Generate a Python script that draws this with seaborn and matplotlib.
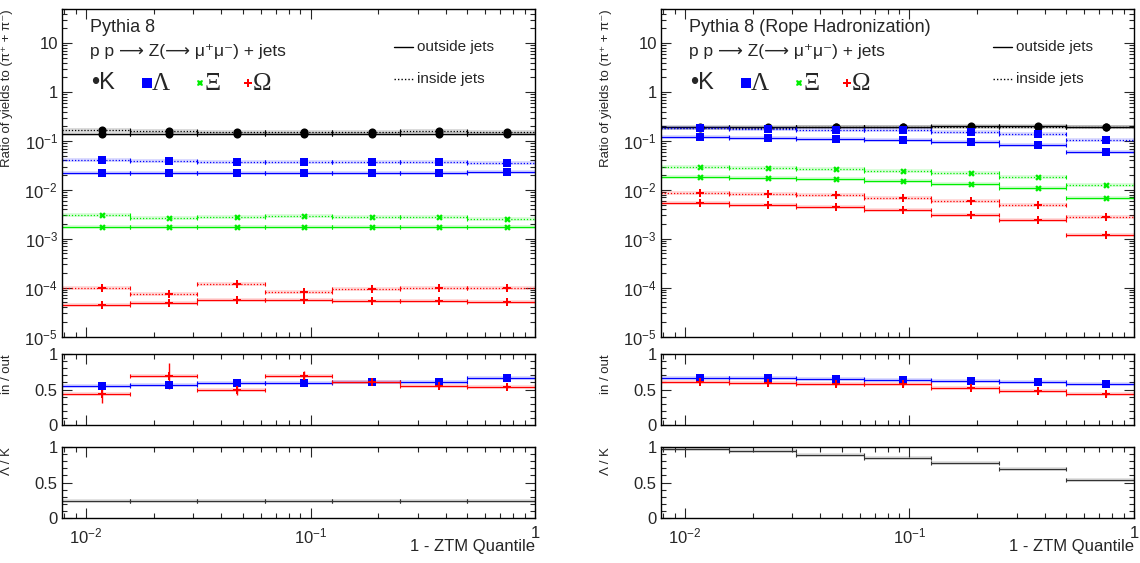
import numpy as np
import matplotlib
matplotlib.use('Agg')
import matplotlib.pyplot as plt
import matplotlib.ticker as mticker
import seaborn as sns

sns.set_style('ticks')
plt.rcParams['font.family'] = ['Liberation Sans', 'DejaVu Sans']
plt.rcParams['mathtext.fontset'] = 'custom'
plt.rcParams['mathtext.rm'] = 'Liberation Sans'
plt.rcParams['mathtext.it'] = 'Liberation Sans:italic'
plt.rcParams['mathtext.default'] = 'regular'

# bin edges of 1 - ZTM quantile
quantile_edges = [0.0078125, 0.015625, 0.03125, 0.0625, 0.125, 0.25, 0.5, 1.0]

# ---- Pythia 8 (default) ----
p8_k_out = [0.140, 0.140, 0.139, 0.139, 0.140, 0.140, 0.141]
p8_k_in = [0.165, 0.158, 0.155, 0.153, 0.155, 0.157, 0.152]
p8_lam_out = [0.0216, 0.0216, 0.0217, 0.0217, 0.0218, 0.0225, 0.0232]
p8_lam_in = [0.0400, 0.0385, 0.0365, 0.0365, 0.0365, 0.0370, 0.0350]
p8_xi_out = [0.00170, 0.00177, 0.00172, 0.00172, 0.00170, 0.00171, 0.00170]
p8_xi_in = [0.00300, 0.00270, 0.00282, 0.00285, 0.00275, 0.00275, 0.00250]
p8_om_out = [4.4e-5, 4.9e-5, 5.7e-5, 5.5e-5, 5.4e-5, 5.3e-5, 5.1e-5]
p8_om_in = [1.0e-4, 7.3e-5, 1.17e-4, 8.3e-5, 9.5e-5, 1.0e-4, 9.6e-5]
p8_lam_ratio = [0.548, 0.562, 0.595, 0.595, 0.610, 0.610, 0.662]
p8_om_ratio = [0.443, 0.690, 0.500, 0.690, 0.605, 0.550, 0.538]
p8_om_ratio_err = [0.13, 0.18, 0.08, 0.07, 0.04, 0.03, 0.02]
p8_lam_over_k = [0.242, 0.243, 0.241, 0.240, 0.237, 0.236, 0.234]

# ---- Pythia 8 (Rope Hadronization) ----
rope_k_out = [0.196, 0.195, 0.196, 0.197, 0.198, 0.198, 0.196]
rope_k_in = [0.186, 0.187, 0.189, 0.190, 0.192, 0.195, 0.194]
rope_lam_out = [0.122, 0.117, 0.110, 0.105, 0.095, 0.084, 0.060]
rope_lam_in = [0.180, 0.178, 0.168, 0.168, 0.155, 0.141, 0.105]
rope_xi_out = [0.0184, 0.0173, 0.0165, 0.0150, 0.0133, 0.0110, 0.0069]
rope_xi_in = [0.0290, 0.0280, 0.0264, 0.0240, 0.0222, 0.0184, 0.0123]
rope_om_out = [0.0053, 0.0049, 0.0044, 0.0039, 0.0031, 0.0024, 0.0012]
rope_om_in = [0.0087, 0.0082, 0.0078, 0.0068, 0.0060, 0.0050, 0.0028]
rope_lam_ratio = [0.667, 0.667, 0.652, 0.638, 0.624, 0.610, 0.581]
rope_om_ratio = [0.610, 0.595, 0.576, 0.576, 0.524, 0.476, 0.433]
rope_om_ratio_err = [0.02, 0.02, 0.02, 0.02, 0.02, 0.02, 0.02]
rope_lam_over_k = [0.967, 0.949, 0.888, 0.847, 0.777, 0.693, 0.540]

BLACK, BLUE, GREEN, RED = '#000000', '#0000ff', '#00ee00', '#ff0000'
DOT = (0, (1, 1.5))

edges = np.array(quantile_edges)
centers = 0.5 * (edges[:-1] + edges[1:])
xerr = [centers - edges[:-1], edges[1:] - centers]


def hist(ax, vals, color, ls='-', marker=None, size=22, yerr=None):
    vals = np.array(vals)
    ax.hlines(vals, edges[:-1], edges[1:], color=color, lw=2.8, alpha=0.15)
    eb = ax.errorbar(centers, vals, xerr=xerr, fmt='none', ecolor=color,
                     elinewidth=0.9, capsize=1.5, capthick=0.8)
    eb[2][0].set_linestyle(ls)
    if yerr is not None:
        ax.errorbar(centers, vals, yerr=yerr, fmt='none', ecolor=color,
                    elinewidth=1.0, capsize=0)
    if marker is not None:
        sns.scatterplot(x=centers, y=vals, ax=ax, marker=marker, color=color,
                        s=size, linewidth=0, zorder=5, legend=False)


def style_axis(ax):
    ax.set_xscale('log')
    ax.set_xlim(edges[0], edges[-1])
    ax.tick_params(which='both', direction='in', top=True, right=True,
                   labelsize=12, width=0.8)
    ax.tick_params(which='major', length=7, pad=3)
    ax.tick_params(which='minor', length=3.5)
    ax.tick_params(axis='x', pad=6)
    ax.xaxis.set_major_formatter(mticker.FuncFormatter(
        lambda v, p: '1' if abs(v - 1) < 1e-9 else r'$10^{%d}$' % round(np.log10(v))))
    for s in ax.spines.values():
        s.set_linewidth(1.0)
        s.set_color('black')


def draw_column(x0, title, k_out, k_in, lam_out, lam_in, xi_out, xi_in,
                om_out, om_in, lam_ratio, om_ratio, om_ratio_err, lam_over_k):
    w = 0.4149
    ax = fig.add_axes([x0, 0.4023, w, 0.5817])
    r = fig.add_axes([x0, 0.2451, w, 0.1261])
    b = fig.add_axes([x0, 0.0799, w, 0.1261])

    # main panel
    for out_vals, in_vals, col, mk, sz in [
            (k_out, k_in, BLACK, 'o', 34), (lam_out, lam_in, BLUE, 's', 34),
            (xi_out, xi_in, GREEN, 'X', 22), (om_out, om_in, RED, 'P', 26)]:
        hist(ax, in_vals, col, DOT, mk, sz)
        hist(ax, out_vals, col, '-', mk, sz)
    style_axis(ax)
    ax.set_yscale('log')
    ax.set_ylim(1e-5, 50)
    ax.yaxis.set_major_locator(mticker.LogLocator(base=10, numticks=10))
    ax.yaxis.set_minor_locator(mticker.LogLocator(base=10, subs=np.arange(2, 10) * 0.1, numticks=20))
    ax.yaxis.set_minor_formatter(mticker.NullFormatter())
    ax.yaxis.set_major_formatter(mticker.FuncFormatter(
        lambda v, p: {1: '1', 10: '10'}.get(round(v, 6), r'$10^{%d}$' % round(np.log10(v)))))
    ax.tick_params(axis='x', labelbottom=False)
    ax.set_ylabel('Ratio of yields to (π⁺ + π⁻)', fontsize=9.5, loc='top')
    ax.yaxis.set_label_coords(-0.103, 1.0)

    ax.text(0.059, 0.945, title, transform=ax.transAxes, fontsize=13, va='center')
    ax.text(0.059, 0.869, 'p p ⟶ Z(⟶ μ⁺μ⁻) + jets',
            transform=ax.transAxes, fontsize=12.5, va='center')
    ax.text(0.062, 0.774, '•K', transform=ax.transAxes, fontsize=17, va='center')
    for xm, xt, col, mk, ms, sym in [(0.180, 0.190, BLUE, 's', 6.5, 'Λ'),
                                     (0.292, 0.302, GREEN, 'X', 5, 'Ξ'),
                                     (0.393, 0.404, RED, 'P', 5.5, 'Ω')]:
        ax.plot([xm], [0.774], marker=mk, ms=ms, color=col, mew=0,
                transform=ax.transAxes, clip_on=False)
        ax.text(xt, 0.772, sym, transform=ax.transAxes, fontsize=18,
                va='center', family='Liberation Serif')
    ax.plot([0.702, 0.742], [0.884, 0.884], color='black', lw=1,
            transform=ax.transAxes)
    ax.plot([0.702, 0.742], [0.786, 0.786], color='black', lw=1, ls=DOT,
            transform=ax.transAxes)
    ax.text(0.751, 0.884, 'outside jets', transform=ax.transAxes,
            fontsize=11, va='center')
    ax.text(0.751, 0.786, 'inside jets', transform=ax.transAxes,
            fontsize=11, va='center')

    # in / out panel
    hist(r, lam_ratio, BLUE, '-', 's', 40)
    hist(r, om_ratio, RED, '-', 'P', 30, yerr=om_ratio_err)
    style_axis(r)
    r.tick_params(axis='x', labelbottom=False)

    # Lambda / K panel
    hist(b, lam_over_k, '#333333', '-')
    style_axis(b)
    for a, lab in [(r, 'in / out'), (b, 'Λ / K')]:
        a.set_ylim(0, 1)
        a.yaxis.set_major_locator(mticker.FixedLocator([0, 0.5, 1]))
        a.yaxis.set_minor_locator(mticker.MultipleLocator(0.1))
        a.yaxis.set_major_formatter(mticker.FuncFormatter(lambda v, p: '%g' % v))
        a.set_ylabel(lab, fontsize=9.5, loc='top')
        a.yaxis.set_label_coords(-0.103, 1.0)
    b.set_xlabel('1 - ZTM Quantile', fontsize=12, loc='right')
    b.xaxis.set_label_coords(1.0, -0.29)


fig = plt.figure(figsize=(11.4, 5.63), dpi=100)
draw_column(0.0544, 'Pythia 8', p8_k_out, p8_k_in, p8_lam_out, p8_lam_in,
            p8_xi_out, p8_xi_in, p8_om_out, p8_om_in, p8_lam_ratio,
            p8_om_ratio, p8_om_ratio_err, p8_lam_over_k)
draw_column(0.5798, 'Pythia 8 (Rope Hadronization)', rope_k_out, rope_k_in,
            rope_lam_out, rope_lam_in, rope_xi_out, rope_xi_in, rope_om_out,
            rope_om_in, rope_lam_ratio, rope_om_ratio, rope_om_ratio_err,
            rope_lam_over_k)

fig.savefig('out.png', dpi=100)
